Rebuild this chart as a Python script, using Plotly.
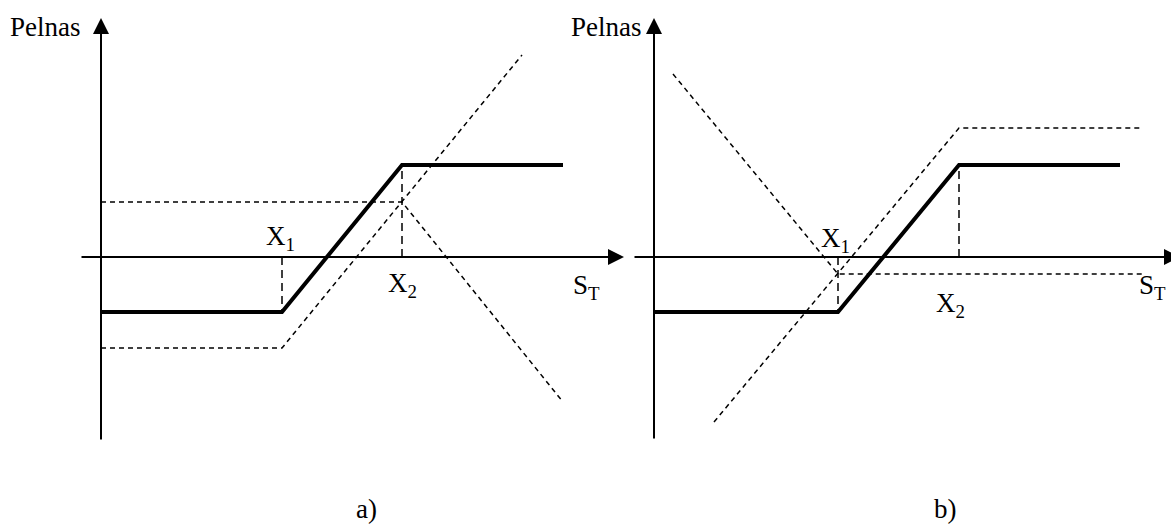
import plotly.graph_objects as go

# ---- panel a): bull spread built from calls ----
a_x1, a_x2 = 18.1, 30.1
a_spread_s = [0, a_x1, a_x2, 46.2]
a_spread_p = [-5.5, -5.5, 9.2, 9.2]
a_long_s = [0, a_x1, 42.1]
a_long_p = [-9.1, -9.1, 20.2]
a_short_s = [0, a_x2, 46.2]
a_short_p = [5.5, 5.5, -14.5]

# ---- panel b): bull spread built from puts ----
b_x1, b_x2 = 18.4, 30.5
b_spread_s = [0, b_x1, b_x2, 46.6]
b_spread_p = [-5.5, -5.5, 9.2, 9.2]
b_short_s = [6.0, b_x2, 48.8]
b_short_p = [-16.5, 12.9, 12.9]
b_long_s = [1.9, b_x1, 48.8]
b_long_p = [18.3, -1.7, -1.7]

# axis extents (tail, head) in each panel's units
a_xaxis = (-2.1, 52.3)
a_yaxis = (-18.4, 23.9)
b_xaxis = (-2.1, 52.6)
b_yaxis = (-18.3, 23.9)

FONT = "Liberation Serif, Times New Roman, DejaVu Serif, serif"
FS = 27
BLACK = "#000000"

fig = go.Figure()


def payoff(xs, ys, xa, width, dash=None):
    fig.add_trace(go.Scatter(
        x=xs, y=ys, mode="lines", xaxis=xa, yaxis="y",
        line=dict(color=BLACK, width=width, dash=dash),
        hoverinfo="skip", showlegend=False, cliponaxis=False,
    ))


for xa, strikes, spread, legs in [
    ("x", (a_x1, a_x2), (a_spread_s, a_spread_p),
     [(a_long_s, a_long_p), (a_short_s, a_short_p)]),
    ("x2", (b_x1, b_x2), (b_spread_s, b_spread_p),
     [(b_short_s, b_short_p), (b_long_s, b_long_p)]),
]:
    for s, p in legs:
        payoff(s, p, xa, 1.5, "5px,4px")
    # strike guides
    k1, k2 = strikes
    payoff([k1, k1], [0, spread[1][1]], xa, 1.5, "8px,5px")
    payoff([k2, k2], [0, spread[1][2]], xa, 1.5, "8px,5px")
    payoff(spread[0], spread[1], xa, 4)

annotations = []


def axis_arrow(xa, x0, y0, x1, y1):
    annotations.append(dict(
        xref=xa, yref="y", axref=xa, ayref="y",
        x=x1, y=y1, ax=x0, ay=y0, text="",
        showarrow=True, arrowhead=2, arrowsize=1.6, arrowwidth=2,
        arrowcolor=BLACK, standoff=0, startstandoff=0,
    ))


def label(xa, x, y, text, size=FS):
    annotations.append(dict(
        xref=xa, yref="y", x=x, y=y, text=text, showarrow=False,
        xanchor="center", yanchor="middle",
        font=dict(family=FONT, size=size, color=BLACK),
    ))


axis_arrow("x", a_xaxis[0], 0, a_xaxis[1], 0)
axis_arrow("x", 0, a_yaxis[0], 0, a_yaxis[1])
axis_arrow("x2", b_xaxis[0], 0, b_xaxis[1], 0)
axis_arrow("x2", 0, b_yaxis[0], 0, b_yaxis[1])

label("x", -5.6, 23.0, "Pelnas")
label("x", 17.9, 1.9, "X<sub>1</sub>")
label("x", 30.1, -2.8, "X<sub>2</sub>")
label("x", 48.5, -3.0, "S<sub>T</sub>")
label("x", 26.5, -25.2, "a)")

label("x2", -4.8, 23.0, "Pelnas")
label("x2", 18.1, 1.7, "X<sub>1</sub>")
label("x2", 29.6, -4.8, "X<sub>2</sub>")
label("x2", 49.8, -3.0, "S<sub>T</sub>")
label("x2", 29.1, -25.2, "b)")

W, H = 1171, 528
hidden = dict(visible=False, showgrid=False, zeroline=False, fixedrange=True)

# both panels span the full width; each x axis places its own origin
fig.update_layout(
    width=W, height=H,
    margin=dict(l=0, r=0, t=0, b=0),
    paper_bgcolor="white", plot_bgcolor="white",
    xaxis=dict(domain=[0, 1], range=[-10.1, 107.0], anchor="y", **hidden),
    xaxis2=dict(domain=[0, 1], range=[-65.4, 51.7], anchor="y",
                overlaying="x", **hidden),
    yaxis=dict(domain=[0, 1], range=[-27.1, 25.7], **hidden),
    annotations=annotations,
    showlegend=False,
)

fig.write_html("out.html")
